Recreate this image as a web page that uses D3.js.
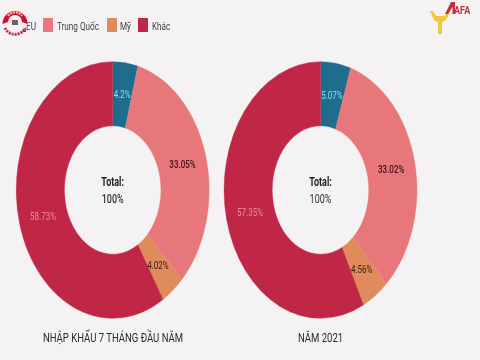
<!DOCTYPE html>
<html>
<head>
<meta charset="utf-8">
<script src="https://cdn.jsdelivr.net/npm/d3@7"></script>
<style>
html, body { margin: 0; padding: 0; background: #f5f2f4; }
svg { display: block; filter: blur(0.5px); font-family: Roboto, sans-serif; }
</style>
</head>
<body>
<div id="chart"></div>
<script>
const categories = ["EU", "Trung Quốc", "Mỹ", "Khác"];
const colors = ["#1f6d8e", "#e8777b", "#e08b5c", "#c02747"];
const labelColors = ["#8fdcec", "#3a1218", "#3a1a10", "#f08a98"];
const values2021Jul = [4.2, 33.05, 4.02, 58.73];
const values2021 = [5.07, 33.02, 4.56, 57.35];
const labels2021Jul = ["4.2%", "33.05%", "4.02%", "58.73%"];
const labels2021 = ["5.07%", "33.02%", "4.56%", "57.35%"];

const width = 480, height = 360;
const rx = 96.5, stretch = 1.33;

const svg = d3.select("#chart").append("svg")
    .attr("width", width)
    .attr("height", height);

const pie = d3.pie().sort(null);
const arc = d3.arc().innerRadius(rx * 0.5).outerRadius(rx);

function drawDonut(cx, cy, values, labels, totalBold) {
    // the source picture is stretched vertically, so scale the whole group
    const g = svg.append("g")
        .attr("transform", "translate(" + cx + "," + cy + ") scale(1," + stretch + ")");

    const slices = pie(values);
    g.selectAll("path")
        .data(slices)
        .enter().append("path")
        .attr("d", arc)
        .attr("fill", (d, i) => colors[i])
        .attr("stroke", (d, i) => colors[i])
        .attr("stroke-width", 0.3);

    g.selectAll("text.value")
        .data(slices)
        .enter().append("text")
        .attr("class", "value")
        .attr("transform", d => "translate(" + arc.centroid(d) + ")")
        .attr("text-anchor", "middle")
        .attr("dy", "0.35em")
        .attr("font-size", 8)
        .attr("font-weight", (d, i) => (i == 1 ? 500 : 400))
        .attr("fill", (d, i) => labelColors[i])
        .text((d, i) => labels[i]);

    g.append("text")
        .attr("text-anchor", "middle")
        .attr("y", -3)
        .attr("font-size", 9)
        .attr("font-weight", 700)
        .attr("fill", "#222")
        .text("Total:");

    g.append("text")
        .attr("text-anchor", "middle")
        .attr("y", 9.5)
        .attr("font-size", 9)
        .attr("font-weight", totalBold ? 500 : 400)
        .attr("fill", "#333")
        .text("100%");
}

drawDonut(112.7, 190, values2021Jul, labels2021Jul, true);
drawDonut(320.5, 190, values2021, labels2021, false);

// captions
function caption(x, text) {
    svg.append("text")
        .attr("transform", "translate(" + x + ",342) scale(0.9,1.25)")
        .attr("text-anchor", "middle")
        .attr("font-size", 10.6)
        .attr("fill", "#2a2a2a")
        .text(text);
}
caption(113, "NHẬP KHẨU 7 THÁNG ĐẦU NĂM");
caption(320.5, "NĂM 2021");

// legend
const legendSwatchX = [16, 43, 107, 138];
const legendTextX = [26, 57, 120, 152];
const legend = svg.append("g");
categories.forEach((c, i) => {
    legend.append("rect")
        .attr("x", legendSwatchX[i])
        .attr("y", 18)
        .attr("width", 10)
        .attr("height", 14)
        .attr("fill", colors[i]);
    legend.append("text")
        .attr("transform", "translate(" + legendTextX[i] + ",30) scale(0.95,1.25)")
        .attr("font-size", 8.6)
        .attr("fill", "#444")
        .text(c);
});

// logo top left, sits over the EU swatch
const badge = svg.append("g").attr("transform", "translate(15,21)");
badge.append("ellipse").attr("rx", 12.5).attr("ry", 13).attr("fill", "#fbeef0");
badge.append("path").attr("d", "M-12.5,3 A12.5,13 0 1 1 12.5,3 L7,1 A7,7 0 0 0 -7,1 Z").attr("fill", "#cc1230");
badge.append("path").attr("d", "M-10,7 A11,11 0 0 0 10,7").attr("fill", "none")
    .attr("stroke", "#a83a46").attr("stroke-width", 3).attr("stroke-dasharray", "2 1");
badge.append("path").attr("d", "M-7,-5 A8.5,8.5 0 0 1 7,-5").attr("fill", "none")
    .attr("stroke", "#f5c6cc").attr("stroke-width", 2).attr("stroke-dasharray", "2 1");
badge.append("rect").attr("x", -3).attr("y", -1).attr("width", 6).attr("height", 5).attr("fill", "#666");

// logo top right
const mark = svg.append("g");
mark.append("path")
    .attr("d", "M430,11 L433,11 L436,16 L445,16 L448,11 L450,12 L446,20 L442,22 L442,34 L438,34 L438,22 L434,20 Z")
    .attr("fill", "#f0c93a");
mark.append("path")
    .attr("d", "M445,14 L451,2 L455,2 L455,14 L452.5,14 L452.5,7 L448,14 Z")
    .attr("fill", "#c5303e");
mark.append("text")
    .attr("transform", "translate(454,13.5) scale(0.95,1.1)")
    .attr("font-size", 9.5)
    .attr("font-weight", 700)
    .attr("fill", "#c5303e")
    .text("AFA");
</script>
</body>
</html>
